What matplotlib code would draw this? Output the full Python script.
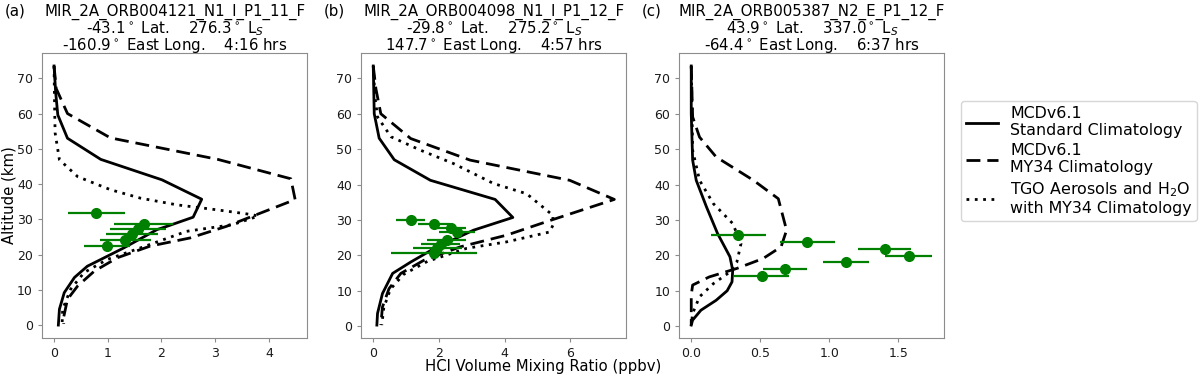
import matplotlib
matplotlib.use("Agg")
import matplotlib.pyplot as plt

# ---------------- data ----------------
# Panel (a)
std_a_alt = [73.5, 66.0, 59.6, 53.0, 47.0, 41.2, 35.7, 30.6, 28.0, 27.1, 21.9, 18.6, 16.7, 13.5, 9.2, 4.5, 0.0]
std_a_val = [0.00, 0.03, 0.07, 0.25, 0.87, 2.01, 2.75, 2.59, 2.10, 1.92, 1.30, 0.87, 0.62, 0.38, 0.19, 0.10, 0.08]
my34_a_alt = [73.5, 67.1, 60.0, 53.1, 47.0, 41.5, 35.6, 28.0, 24.7, 22.4, 19.1, 15.3, 11.1, 7.3, 2.3, 0.3]
my34_a_val = [0.00, 0.04, 0.25, 1.05, 3.05, 4.41, 4.49, 3.21, 2.53, 1.79, 1.18, 0.75, 0.44, 0.25, 0.18, 0.18]
tgo_a_alt = [73.5, 62.0, 54.5, 46.9, 42.1, 38.4, 36.0, 34.1, 32.7, 31.3, 30.9, 28.5, 26.6, 21.9, 18.6, 14.9, 10.2, 4.5, 0.2]
tgo_a_val = [0.00, 0.01, 0.02, 0.10, 0.44, 1.05, 1.61, 2.29, 3.03, 3.70, 3.80, 3.33, 2.47, 1.61, 0.99, 0.56, 0.31, 0.16, 0.15]
obs_a_alt = [31.8, 28.8, 27.3, 25.7, 24.1, 22.5]
obs_a_val = [0.79, 1.67, 1.56, 1.45, 1.33, 0.99]
obs_a_err = [0.53, 0.55, 0.52, 0.48, 0.47, 0.43]

# Panel (b)
std_b_alt = [73.5, 60.0, 53.1, 47.0, 41.2, 35.8, 30.7, 27.1, 21.9, 18.1, 14.9, 9.2, 3.6, 0.3]
std_b_val = [0.00, 0.03, 0.18, 0.64, 1.74, 3.71, 4.25, 3.05, 1.85, 1.14, 0.59, 0.28, 0.13, 0.11]
my34_b_alt = [73.5, 67.1, 60.0, 53.0, 46.9, 41.2, 35.8, 29.5, 25.7, 22.4, 18.6, 14.9, 10.6, 5.4, 0.3]
my34_b_val = [0.00, 0.08, 0.23, 1.14, 2.95, 5.98, 7.34, 5.27, 4.06, 2.65, 1.54, 0.84, 0.48, 0.28, 0.23]
tgo_b_alt = [73.5, 65.0, 59.1, 53.5, 49.7, 45.9, 40.3, 37.4, 31.3, 28.5, 26.6, 23.8, 22.0, 18.3, 14.6, 10.4, 5.2, 0.3]
tgo_b_val = [0.00, 0.05, 0.13, 0.54, 1.44, 2.45, 3.66, 4.67, 5.47, 5.47, 5.37, 4.06, 2.85, 1.65, 0.92, 0.52, 0.32, 0.26]
obs_b_alt = [29.9, 28.8, 27.6, 26.6, 24.3, 23.2, 22.0, 20.7]
obs_b_val = [1.14, 1.85, 2.38, 2.55, 2.23, 2.05, 1.95, 1.85]
obs_b_err = [0.45, 0.50, 0.45, 0.55, 0.58, 0.60, 0.75, 1.30]

# Panel (c)
std_c_alt = [73.5, 60.0, 46.9, 41.2, 33.7, 26.2, 19.6, 15.8, 12.5, 10.0, 7.3, 4.5, 1.7, 0.3]
std_c_val = [0.00, 0.00, 0.01, 0.036, 0.11, 0.19, 0.28, 0.30, 0.295, 0.26, 0.18, 0.07, 0.01, 0.00]
my34_c_alt = [73.5, 59.1, 53.4, 47.8, 41.2, 36.0, 27.1, 22.4, 19.1, 16.3, 13.9, 11.6, 8.8, 0.3]
my34_c_val = [0.00, 0.01, 0.06, 0.18, 0.45, 0.63, 0.69, 0.65, 0.52, 0.33, 0.13, 0.01, 0.00, 0.00]
tgo_c_alt = [73.5, 49.7, 41.2, 34.6, 29.0, 23.3, 18.1, 15.3, 12.0, 8.3, 3.6, 0.3]
tgo_c_val = [0.00, 0.01, 0.06, 0.16, 0.30, 0.36, 0.33, 0.28, 0.16, 0.06, 0.01, 0.00]
obs_c_alt = [25.7, 23.8, 21.9, 19.8, 18.0, 16.1, 14.1]
obs_c_val = [0.34, 0.84, 1.40, 1.575, 1.12, 0.68, 0.51]
obs_c_err = [0.20, 0.20, 0.19, 0.17, 0.17, 0.16, 0.20]

panel_tags = ["(a)", "(b)", "(c)"]
orbits = ["MIR_2A_ORB004121_N1_I_P1_11_F", "MIR_2A_ORB004098_N1_I_P1_12_F", "MIR_2A_ORB005387_N2_E_P1_12_F"]
lats = ["-43.1", "-29.8", "43.9"]
lss = ["276.3", "275.2", "337.0"]
lons = ["-160.9", "147.7", "-64.4"]
times = ["4:16", "4:57", "6:37"]

legend_labels = ["MCDv6.1\nStandard Climatology",
                 "MCDv6.1\nMY34 Climatology",
                 "TGO Aerosols and H$_2$O\nwith MY34 Climatology"]

panels = [
    (std_a_alt, std_a_val, my34_a_alt, my34_a_val, tgo_a_alt, tgo_a_val, obs_a_alt, obs_a_val, obs_a_err),
    (std_b_alt, std_b_val, my34_b_alt, my34_b_val, tgo_b_alt, tgo_b_val, obs_b_alt, obs_b_val, obs_b_err),
    (std_c_alt, std_c_val, my34_c_alt, my34_c_val, tgo_c_alt, tgo_c_val, obs_c_alt, obs_c_val, obs_c_err),
]

# ---------------- figure ----------------
fig = plt.figure(figsize=(12, 3.76), dpi=100)
lefts = [0.035, 0.301, 0.566]
w, b, h = 0.221, 0.101, 0.758
spine_col = "#8c8c8c"
title_fs = 10.8
line_y = [1.131, 1.070, 1.0105]   # baselines of the three title lines (axes fraction)
handles = None
for i, (sa, sv, ma, mv, ta, tv, oa, ov, oe) in enumerate(panels):
    ax = fig.add_axes([lefts[i], b, w, h])
    l1, = ax.plot(sv, sa, color="black", lw=2.0, ls="-")
    l2, = ax.plot(mv, ma, color="black", lw=2.0, ls=(0, (5, 2.5)))
    l3, = ax.plot(tv, ta, color="black", lw=2.0, ls=(0, (1, 2)))
    ax.errorbar(ov, oa, xerr=oe, fmt="o", color="green", ms=7, elinewidth=1.6, capsize=0, zorder=5)
    handles = [l1, l2, l3]
    ax.set_yticks(range(0, 71, 10))
    for s in ax.spines.values():
        s.set_color(spine_col)
    ax.tick_params(labelsize=9, color=spine_col, labelcolor="#1a1a1a", length=3)
    title_lines = [orbits[i],
                   f"{lats[i]}$^\\circ$ Lat.    {lss[i]}$^\\circ$ L$_S$",
                   f"{lons[i]}$^\\circ$ East Long.    {times[i]} hrs"]
    for ty, tl in zip(line_y, title_lines):
        ax.text(0.5, ty, tl, transform=ax.transAxes, fontsize=title_fs,
                ha="center", va="baseline")
    ax.text(-0.14, line_y[0], panel_tags[i], transform=ax.transAxes, fontsize=title_fs,
            ha="left", va="baseline")
    if i == 0:
        ax.set_ylabel("Altitude (km)", fontsize=10.7)
        ax.yaxis.set_label_coords(-0.097, 0.5)

fig.text(0.4525, 0.026, "HCl Volume Mixing Ratio (ppbv)", fontsize=10.7, ha="center", va="center")

fig.legend(handles, legend_labels, loc="upper left", bbox_to_anchor=(0.801, 0.731),
           fontsize=11.4, frameon=True, borderaxespad=0, handlelength=2.0,
           labelspacing=0.3, borderpad=0.3, handletextpad=0.8)

fig.savefig("out.png", dpi=100)
